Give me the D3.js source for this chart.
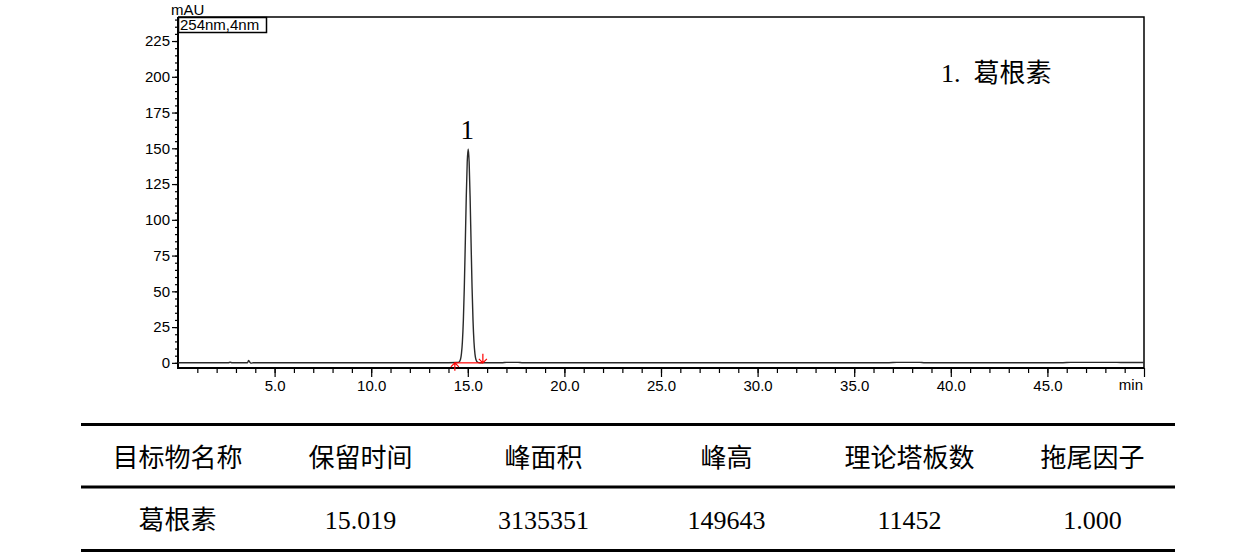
<!DOCTYPE html>
<html lang="zh">
<head>
<meta charset="UTF-8">
<title>葛根素 色谱图</title>
<script src="https://cdn.jsdelivr.net/npm/d3@7"></script>
<style>
  html, body { margin: 0; padding: 0; background: #fff; }
  svg { display: block; }
  .axis text { font-family: Arial, "Liberation Sans", sans-serif; font-size: 15px; fill: #000; }
  .axis line { stroke: #000; stroke-width: 1.2; }
  .sans { font-family: Arial, "Liberation Sans", sans-serif; font-size: 15px; fill: #000; }
  .serif { font-family: "Liberation Serif", "Noto Sans CJK SC", serif; fill: #000; }
</style>
</head>
<body>
<div id="chart"></div>
<script>
  // chromatogram trace (min, mAU)
  const traceTime = [0, 1.0, 2.0, 2.6, 2.7, 2.8, 3.6, 3.65, 3.7, 3.75, 3.8, 3.9, 6.0, 10.0, 14.0,
    14.42, 14.52, 14.62, 14.67, 14.72, 14.77, 14.82, 14.87, 14.92, 14.97, 15.02,
    15.07, 15.12, 15.17, 15.22, 15.27, 15.32, 15.37, 15.42, 15.52, 15.62,
    16.8, 17.0, 17.6, 17.8, 25.0, 30.0, 36.8, 37.2, 38.4, 38.6, 45.8, 46.2, 48.6, 49.0, 50.0];
  const traceMAU = [0.1, 0.1, 0.1, 0.1, 0.4, 0.1, 0.1, 1.6, 0.8, 0.0, -0.2, 0.1, 0.1, 0.1, 0.1,
    0.2, 0.3, 2.4, 6.3, 14.6, 29.7, 53.1, 83.6, 115.5, 140.2, 149.6,
    140.2, 115.5, 83.6, 53.1, 29.7, 14.6, 6.3, 2.4, 0.3, 0.1,
    0.1, 0.3, 0.3, 0.1, 0.1, 0.1, 0.1, 0.3, 0.3, 0.1, 0.1, 0.3, 0.3, 0.2, 0.2];

  // integration of peak 1 (start / end, min)
  const peakNames = ["1"];
  const peakApex = [15.02];
  const peakHeight = [149.6];
  const peakStart = [14.33];
  const peakEnd = [15.78];

  const yMajorTicks = [0, 25, 50, 75, 100, 125, 150, 175, 200, 225];
  const xMajorTicks = [5, 10, 15, 20, 25, 30, 35, 40, 45];

  const legendText = "1.  葛根素";
  const channelText = "254nm,4nm";

  const tableHeaders = ["目标物名称", "保留时间", "峰面积", "峰高", "理论塔板数", "拖尾因子"];
  const tableRow = ["葛根素", "15.019", "3135351", "149643", "11452", "1.000"];

  const W = 1260, H = 558;
  const plot = {left: 178, right: 1144, top: 17, bottom: 368};

  const svg = d3.select("#chart").append("svg")
      .attr("width", W).attr("height", H);

  const x = d3.scaleLinear().domain([0, 50]).range([plot.left, plot.right]);
  const y = d3.scaleLinear().domain([-3.6, 241.8]).range([plot.bottom, plot.top]);

  // axes: minor ticks first, then labelled majors
  svg.append("g").attr("class", "axis")
      .attr("transform", `translate(${plot.left},0)`)
      .call(d3.axisLeft(y).tickValues(d3.range(0, 241, 5)).tickSize(3).tickSizeOuter(0).tickFormat(""))
      .call(g => g.select(".domain").remove());
  svg.append("g").attr("class", "axis")
      .attr("transform", `translate(${plot.left},0)`)
      .call(d3.axisLeft(y).tickValues(yMajorTicks).tickSize(6).tickSizeOuter(0).tickPadding(2))
      .call(g => g.select(".domain").remove());

  svg.append("g").attr("class", "axis")
      .attr("transform", `translate(0,${plot.bottom})`)
      .call(d3.axisBottom(x).tickValues(d3.range(1, 50, 1)).tickSize(5).tickSizeOuter(0).tickFormat(""))
      .call(g => g.select(".domain").remove());
  svg.append("g").attr("class", "axis")
      .attr("transform", `translate(0,${plot.bottom})`)
      .call(d3.axisBottom(x).tickValues(xMajorTicks.concat([50])).tickSize(9).tickSizeOuter(0)
          .tickPadding(3).tickFormat(d => d === 50 ? "" : d3.format(".1f")(d)))
      .call(g => g.select(".domain").remove());

  svg.append("text").attr("class", "sans")
      .attr("x", plot.right - 1).attr("y", 390)
      .attr("text-anchor", "end")
      .text("min");
  svg.append("text").attr("class", "sans")
      .attr("x", 171).attr("y", 15)
      .text("mAU");

  // frame
  svg.append("path")
      .attr("d", `M${plot.left},${plot.top}H${plot.right}V${plot.bottom}`)
      .attr("fill", "none").attr("stroke", "#000").attr("stroke-width", 1.5);
  svg.append("path")
      .attr("d", `M${plot.left},${plot.top}V${plot.bottom}H${plot.right}`)
      .attr("fill", "none").attr("stroke", "#000").attr("stroke-width", 2);

  // channel box
  const chan = svg.append("g");
  chan.append("rect")
      .attr("x", plot.left + 0.5).attr("y", plot.top + 0.5)
      .attr("width", 88).attr("height", 15)
      .attr("fill", "#fff").attr("stroke", "#000").attr("stroke-width", 1.5);
  chan.append("text").attr("class", "sans")
      .attr("x", plot.left + 2).attr("y", plot.top + 12.5)
      .text(channelText);

  // trace
  const trace = traceTime.map((t, i) => [t, traceMAU[i]]);
  svg.append("path")
      .datum(trace)
      .attr("fill", "none")
      .attr("stroke", "#2a2a2a")
      .attr("stroke-width", 1.4)
      .attr("stroke-linejoin", "round")
      .attr("d", d3.line().x(d => x(d[0])).y(d => y(d[1])).curve(d3.curveMonotoneX));

  // integration baseline and markers
  const integ = svg.append("g").attr("stroke", "#ff0000").attr("stroke-width", 1.2).attr("fill", "none");
  peakStart.forEach((s, i) => {
    const x0 = x(s), x1 = x(peakEnd[i]), yb = y(0);
    integ.append("line").attr("x1", x0).attr("x2", x1).attr("y1", yb).attr("y2", yb);
    integ.append("path").attr("d", `M${x0},${yb + 8}V${yb}M${x0 - 4},${yb + 4}L${x0},${yb}L${x0 + 4},${yb + 4}`);
    integ.append("path").attr("d", `M${x1},${yb - 9}V${yb}M${x1 - 4},${yb - 4}L${x1},${yb}L${x1 + 4},${yb - 4}`);
  });

  // peak label
  svg.selectAll("text.peak")
      .data(peakNames)
      .join("text")
      .attr("class", "peak serif")
      .attr("x", (d, i) => x(peakApex[i]) - 1)
      .attr("y", (d, i) => y(peakHeight[i]) - 10)
      .attr("text-anchor", "middle")
      .style("font-size", "27px")
      .text(d => d);

  // legend
  svg.append("text").attr("class", "serif")
      .attr("x", 941).attr("y", 82)
      .style("font-size", "26px")
      .attr("xml:space", "preserve")
      .text(legendText);

  // results table
  const col = d3.scaleBand().domain(tableHeaders).range([86, 1184]);
  const tbl = svg.append("g");
  [424.5, 487, 550.5].forEach(yy => {
    tbl.append("line").attr("x1", 81).attr("x2", 1175).attr("y1", yy).attr("y2", yy)
        .attr("stroke", "#000").attr("stroke-width", 3);
  });
  tbl.selectAll("text.head")
      .data(tableHeaders)
      .join("text")
      .attr("class", "head serif")
      .attr("x", d => col(d) + col.bandwidth() / 2)
      .attr("y", 467)
      .attr("text-anchor", "middle")
      .style("font-size", "26px")
      .text(d => d);
  tbl.selectAll("text.cell")
      .data(tableRow)
      .join("text")
      .attr("class", "cell serif")
      .attr("x", (d, i) => col(tableHeaders[i]) + col.bandwidth() / 2)
      .attr("y", 529)
      .attr("text-anchor", "middle")
      .style("font-size", "26px")
      .text(d => d);
</script>
</body>
</html>
